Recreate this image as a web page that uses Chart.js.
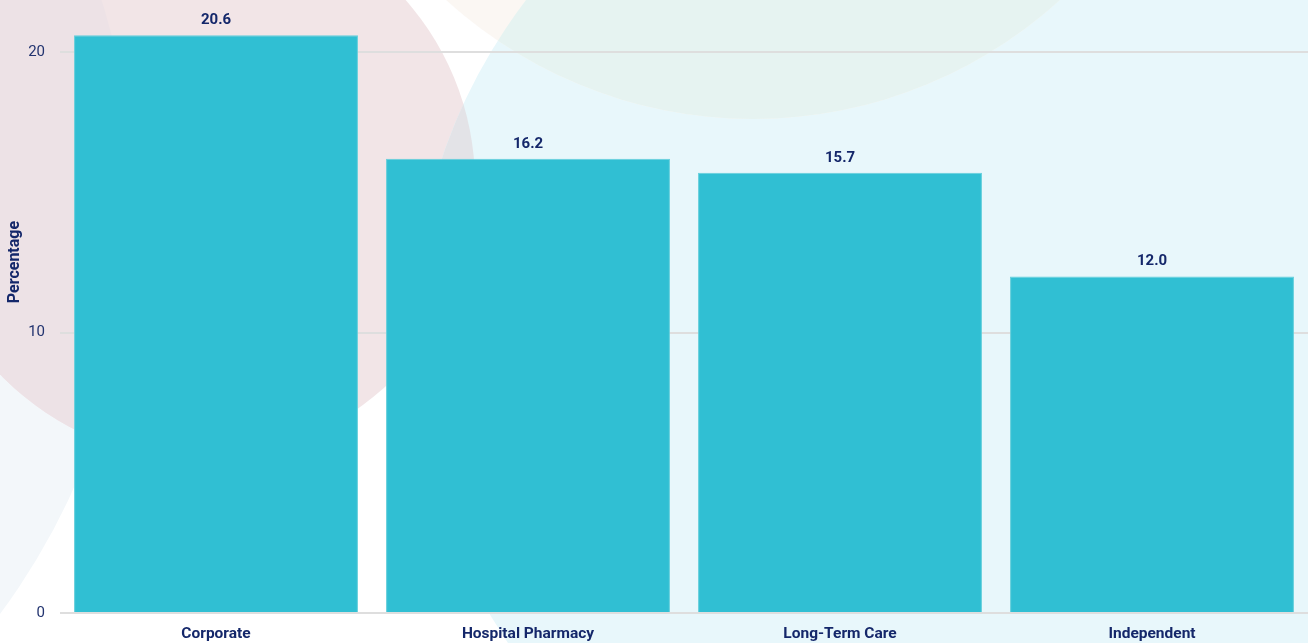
<!DOCTYPE html>
<html>
<head>
<meta charset="utf-8">
<title>Percentage by practice setting</title>
<style>
  html, body { margin: 0; padding: 0; background: #ffffff; }
  #wrap { width: 1308px; height: 643px; position: relative; }
</style>
<script src="https://cdn.jsdelivr.net/npm/chart.js@4.4.1/dist/chart.umd.min.js"></script>
</head>
<body>
<div id="wrap"><canvas id="chart"></canvas></div>
<script>
// Practice settings and their percentages
const categories = ['Corporate', 'Hospital Pharmacy', 'Long-Term Care', 'Independent'];
const percentages = [20.6, 16.2, 15.7, 12.0];
const yTicks = [0, 10, 20];
const yMax = 21;

const NAVY = '#14276a';
const NAVY_SOFT = '#22336f';
const BAR = '#30bfd3';
const FONT = 'Roboto';

// Soft decorative circles painted behind the plot
const backdrop = {
  id: 'backdrop',
  beforeDraw(chart) {
    const ctx = chart.ctx;
    const pale = { x: -548, y: 208, r: 682 };
    const rose = { x: 199, y: 183, r: 276 };
    const sky  = { x: 963, y: 334, r: 550 };
    const sand = { x: 753, y: -336, r: 455 };
    const path = c => { ctx.beginPath(); ctx.arc(c.x, c.y, c.r, 0, Math.PI * 2); };
    const fill = (c, col) => { path(c); ctx.fillStyle = col; ctx.fill(); };
    const overlap = (a, b, col) => {
      ctx.save(); path(a); ctx.clip(); fill(b, col); ctx.restore();
    };
    ctx.save();
    ctx.fillStyle = '#ffffff';
    ctx.fillRect(0, 0, chart.width, chart.height);
    fill(pale, '#f3f7fa');
    fill(rose, '#f2e5e7');
    fill(sky, '#e8f7fb');
    fill(sand, '#fbf7f3');
    overlap(rose, pale, '#ede2e6');
    overlap(rose, sky, '#e3e3e7');
    overlap(sand, sky, '#e6f3f1');
    ctx.restore();
  }
};

// Value printed above each bar
const valueLabels = {
  id: 'valueLabels',
  afterDatasetsDraw(chart) {
    const ctx = chart.ctx;
    const meta = chart.getDatasetMeta(0);
    ctx.save();
    ctx.font = 'bold 15px ' + FONT;
    ctx.fillStyle = NAVY;
    ctx.textAlign = 'center';
    ctx.textBaseline = 'alphabetic';
    meta.data.forEach((bar, i) => {
      ctx.fillText(percentages[i].toFixed(1), bar.x, bar.y - 11);
    });
    ctx.restore();
  }
};

// Rotated y-axis caption
const yCaption = {
  id: 'yCaption',
  afterDraw(chart) {
    const ctx = chart.ctx;
    ctx.save();
    ctx.translate(15, 262);
    ctx.rotate(-Math.PI / 2);
    ctx.font = 'bold 16px ' + FONT;
    ctx.fillStyle = NAVY;
    ctx.textAlign = 'center';
    ctx.textBaseline = 'middle';
    ctx.fillText('Percentage', 0, 0);
    ctx.restore();
  }
};

new Chart(document.getElementById('chart'), {
  type: 'bar',
  data: {
    labels: categories,
    datasets: [{
      data: percentages,
      backgroundColor: BAR,
      borderColor: '#62cedb',
      borderWidth: 1,
      borderSkipped: 'bottom',
      barPercentage: 0.91,
      categoryPercentage: 1
    }]
  },
  options: {
    responsive: true,
    maintainAspectRatio: false,
    animation: false,
    layout: { padding: { top: 24, left: 0, right: 0, bottom: 0 } },
    plugins: {
      legend: { display: false },
      tooltip: { enabled: false }
    },
    scales: {
      x: {
        grid: { display: false },
        border: { display: false },
        ticks: {
          color: NAVY,
          font: { family: FONT, size: 15.5, weight: 'bold' },
          padding: 4
        },
        afterFit(scale) { scale.height = 30; }
      },
      y: {
        min: 0,
        max: yMax,
        border: { display: false },
        grid: { color: '#dedede', lineWidth: 2, drawTicks: false },
        ticks: {
          color: NAVY_SOFT,
          font: { family: FONT, size: 15 },
          padding: 15
        },
        afterBuildTicks(scale) { scale.ticks = yTicks.map(v => ({ value: v })); },
        afterFit(scale) { scale.width = 60; }
      }
    }
  },
  plugins: [backdrop, valueLabels, yCaption]
});
</script>
</body>
</html>
